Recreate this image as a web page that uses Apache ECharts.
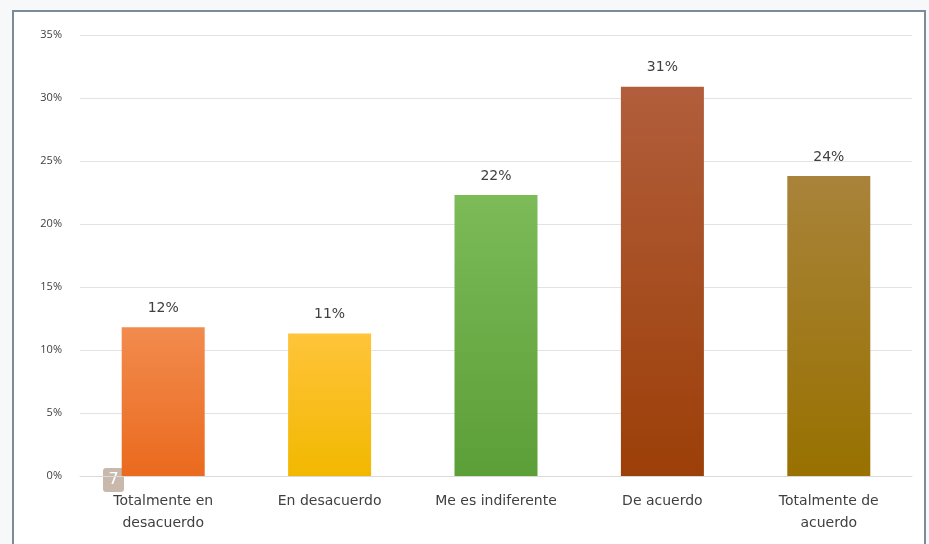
<!DOCTYPE html>
<html>
<head>
<meta charset="utf-8">
<script src="https://cdn.jsdelivr.net/npm/echarts@6/dist/echarts.min.js"></script>
<style>
  html, body { margin: 0; padding: 0; background: #f7f8fa; }
  #chart { width: 929px; height: 544px; }
</style>
</head>
<body>
<div id="chart"></div>
<script>
var categories = ['Totalmente en\ndesacuerdo', 'En desacuerdo', 'Me es indiferente', 'De acuerdo', 'Totalmente de\nacuerdo'];
var values = [11.8, 11.3, 22.3, 30.9, 23.8];
var labels = ['12%', '11%', '22%', '31%', '24%'];
var topColors = ['#f28b4e', '#ffc43a', '#7cbb58', '#b25e3c', '#a9833a'];
var bottomColors = ['#ea6a1e', '#f2b800', '#5c9e38', '#9c3f08', '#987100'];

var chartDom = document.getElementById('chart');
var chart = echarts.init(chartDom);

var barData = values.map(function (v, i) {
    return {
        value: v,
        itemStyle: {
            color: new echarts.graphic.LinearGradient(0, 0, 0, 1, [
                { offset: 0, color: topColors[i] },
                { offset: 1, color: bottomColors[i] }
            ])
        },
        label: { formatter: labels[i] }
    };
});

var option = {
    backgroundColor: '#f7f8fa',
    graphic: [
        {
            type: 'rect',
            shape: { x: 13, y: 11, width: 912, height: 560 },
            style: { fill: '#ffffff', stroke: '#7d8a99', lineWidth: 2 },
            z: -10
        },
        {
            type: 'group',
            left: 103,
            top: 468,
            children: [
                { type: 'rect', shape: { x: 0, y: 0, width: 21, height: 24, r: 3 }, style: { fill: '#c9b9ac' } },
                { type: 'text', style: { x: 10.5, y: 12, text: '7', fill: '#ffffff', font: '16px "DejaVu Sans"', align: 'center', verticalAlign: 'middle' } }
            ],
            z: 10
        }
    ],
    grid: {
        left: 80,
        right: 17,
        top: 35,
        bottom: 68
    },
    xAxis: {
        type: 'category',
        data: categories,
        axisLine: { lineStyle: { color: '#d9d9d9' } },
        axisTick: { show: false },
        axisLabel: {
            color: '#404040',
            fontFamily: 'DejaVu Sans',
            fontSize: 14,
            lineHeight: 22,
            margin: 14,
            interval: 0
        }
    },
    yAxis: {
        type: 'value',
        min: 0,
        max: 35,
        interval: 5,
        axisLine: { show: false },
        axisTick: { show: false },
        splitLine: { lineStyle: { color: '#e3e3e3' } },
        axisLabel: {
            color: '#404040',
            fontFamily: 'Open Sans',
            fontSize: 11,
            margin: 18,
            formatter: '{value}%'
        }
    },
    series: [
        {
            type: 'bar',
            data: barData,
            barWidth: 83,
            label: {
                show: true,
                position: 'top',
                distance: 12,
                color: '#404040',
                fontFamily: 'DejaVu Sans',
                fontSize: 14
            }
        }
    ]
};

chart.setOption(option);
</script>
</body>
</html>
